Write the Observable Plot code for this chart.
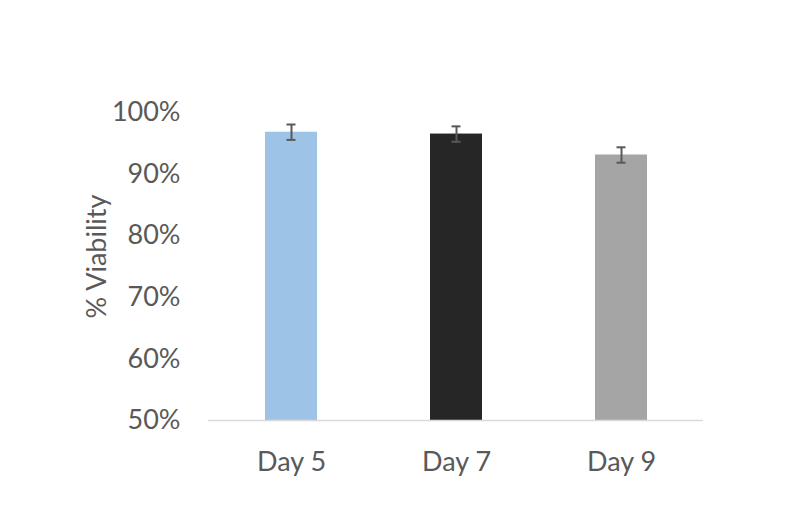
<!DOCTYPE html>
<html><head><meta charset="utf-8">
<script src="https://cdn.jsdelivr.net/npm/d3@7"></script>
<script src="https://cdn.jsdelivr.net/npm/@observablehq/plot@0.6"></script>
<style>body{margin:0;background:#fff;} svg{font-family:Lato,"Open Sans",sans-serif;}</style>
</head><body><div id="chart"></div>
<script>
const days = ["Day 5", "Day 7", "Day 9"];
const viability = [0.968, 0.965, 0.931];
const errors = [0.0125, 0.0125, 0.0125];
const colors = ["#9dc3e6", "#262626", "#a5a5a5"];
const yTicks = [0.5, 0.6, 0.7, 0.8, 0.9, 1.0];

const data = days.map((d, i) => ({day: d, v: viability[i], e: errors[i]}));

const chart = Plot.plot({
  width: 802, height: 528,
  marginLeft: 208, marginRight: 99, marginTop: 112, marginBottom: 108,
  style: {fontSize: "27px", color: "#595959", background: "#fff"},
  x: {domain: days, paddingInner: 0.685, paddingOuter: 0.3425, label: null},
  y: {domain: [0.5, 1.0], ticks: yTicks, tickFormat: d3.format(".0%"), label: null},
  color: {domain: days, range: colors},
  marks: [
    Plot.barY(data, {x: "day", y1: 0.5, y2: "v", fill: "day"}),
    Plot.ruleY([0.5], {stroke: "#d9d9d9", strokeWidth: 1.5}),
    Plot.ruleX(data, {x: "day", y1: d => d.v - d.e, y2: d => d.v + d.e, stroke: "#595959", strokeWidth: 2}),
    Plot.tickY(data, {x: "day", y: d => d.v - d.e, stroke: "#595959", strokeWidth: 2, insetLeft: 21.5, insetRight: 21.5}),
    Plot.tickY(data, {x: "day", y: d => d.v + d.e, stroke: "#595959", strokeWidth: 2, insetLeft: 21.5, insetRight: 21.5}),
    Plot.axisY({ticks: yTicks, tickFormat: d3.format(".0%"), tickSize: 0, tickPadding: 28, fill: "#595959", fontSize: 27, label: null}),
    Plot.axisX({tickSize: 0, tickPadding: 31, fill: "#595959", fontSize: 27, label: null}),
    Plot.text(["% Viability"], {frameAnchor: "left", textAnchor: "middle", dx: -111, dy: -10, rotate: -90, fill: "#595959", fontSize: 27})
  ]
});
document.getElementById("chart").appendChild(chart);
</script></body></html>
